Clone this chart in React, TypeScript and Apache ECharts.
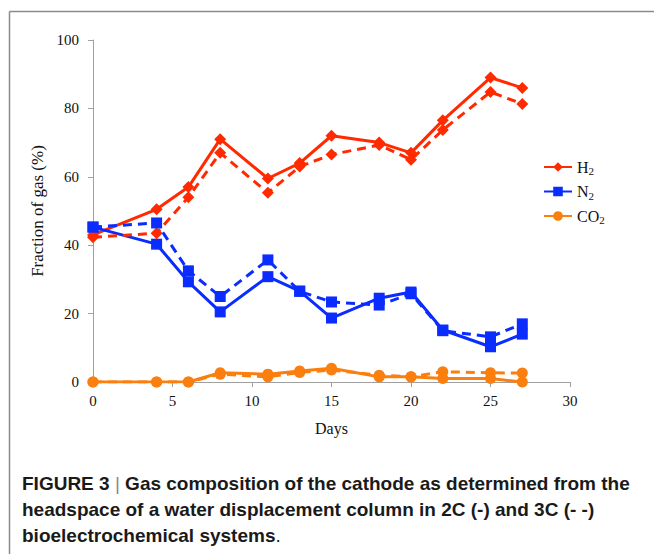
import React, { useEffect, useRef } from "react";
import * as echarts from "echarts";

const days = [0, 4, 6, 8, 11, 13, 15, 18, 20, 22, 25, 27];
const h2_2C = [43, 50.5, 57, 71, 59.5, 64, 72, 70, 67, 76.5, 89, 86];
const h2_3C = [42.3, 43.5, 54, 67, 55.3, 63, 66.5, 69.3, 65, 73.7, 84.8, 81.3];
const n2_2C = [45.3, 40.3, 29.3, 20.5, 30.8, 26.6, 18.7, 24.5, 26.3, 15.2, 10.3, 14];
const n2_3C = [45.3, 46.5, 32.5, 25, 35.7, 26.5, 23.4, 22.5, 25.8, 15, 13.2, 17];
const co2_2C = [0, 0, 0, 2.7, 2.3, 3.2, 4, 1.5, 1.5, 1, 1, 0];
const co2_3C = [0, 0, 0, 2.3, 1.5, 2.8, 3.5, 2, 1.5, 3, 2.7, 2.6];

const yTicks = { min: 0, max: 100, interval: 20 };
const xTicks = { min: 0, max: 30, interval: 5 };

const RED = "#ff2a00";
const BLUE = "#0a2cff";
const ORANGE = "#fb7f0e";

const pairs = (ys: number[]) => days.map((d, i) => [d, ys[i]]);

export default function App() {
  const ref = useRef<HTMLDivElement>(null);
  useEffect(() => {
    if (!ref.current) return;
    const chart = echarts.init(ref.current, null, { renderer: "svg" });
    const mk = (
      name: string,
      data: number[],
      color: string,
      symbol: string,
      size: number,
      dashed: boolean
    ) => ({
      name,
      type: "line",
      data: pairs(data),
      symbol,
      symbolSize: size,
      showSymbol: true,
      itemStyle: { color },
      lineStyle: { color, width: 3, type: dashed ? [9, 6] : "solid" },
      z: dashed ? 3 : 2,
    });
    const serif = "'Liberation Serif', 'DejaVu Serif', serif";
    const sans = "'Liberation Sans', Arial, sans-serif";
    chart.setOption({
      animation: false,
      grid: { left: 93, right: 84, top: 40, bottom: 172, containLabel: false },
      legend: {
        data: ["H2", "N2", "CO2"],
        orient: "vertical",
        left: 538,
        top: 154,
        itemWidth: 28,
        itemHeight: 12,
        itemGap: 7,
        formatter: (n: string) => `{n|${n.replace("2", "")}}{s|2}`,
        textStyle: {
          rich: {
            n: { fontFamily: serif, fontSize: 16, color: "#111", lineHeight: 18 },
            s: { fontFamily: serif, fontSize: 11, color: "#111", verticalAlign: "bottom", padding: [8, 0, 0, 0] },
          },
        },
      },
      xAxis: {
        type: "value",
        ...xTicks,
        name: "Days",
        nameLocation: "middle",
        nameGap: 38,
        nameTextStyle: { fontFamily: serif, fontSize: 16, color: "#111" },
        axisLine: { show: true, lineStyle: { color: "#a0a0a0", width: 1 } },
        axisTick: { show: true, length: 5, lineStyle: { color: "#a0a0a0" } },
        axisLabel: { fontFamily: serif, fontSize: 15, color: "#111", margin: 11 },
        splitLine: { show: false },
      },
      yAxis: {
        type: "value",
        ...yTicks,
        name: "Fraction of gas (%)",
        nameLocation: "middle",
        nameGap: 46,
        nameTextStyle: { fontFamily: serif, fontSize: 17, color: "#111" },
        axisLine: { show: true, lineStyle: { color: "#a0a0a0", width: 1 } },
        axisTick: { show: true, length: 5, lineStyle: { color: "#a0a0a0" } },
        axisLabel: { fontFamily: serif, fontSize: 15, color: "#111", margin: 14 },
        splitLine: { show: false },
      },
      graphic: [
        { type: "line", shape: { x1: 9.5, y1: 11.5, x2: 654, y2: 11.5 }, style: { stroke: "#8a8a8a", lineWidth: 1.5 } },
        { type: "line", shape: { x1: 9.5, y1: 11.5, x2: 9.5, y2: 554 }, style: { stroke: "#8a8a8a", lineWidth: 1.5 } },
        {
          type: "text",
          left: 22,
          top: 474,
          style: {
            text: "{b|FIGURE 3}{bar| | }{m|Gas composition of the cathode as determined from the}\n{m|headspace of a water displacement column in 2C (-) and 3C (- -)}\n{m|bioelectrochemical systems}{p|.}",
            rich: {
              b: { fontFamily: sans, fontWeight: "bold", fontSize: 19, fill: "#1a1a1a", lineHeight: 26 },
              bar: { fontFamily: sans, fontWeight: "normal", fontSize: 19, fill: "#888", lineHeight: 26 },
              m: { fontFamily: sans, fontWeight: "bold", fontSize: 19, fill: "#1a1a1a", lineHeight: 26 },
              p: { fontFamily: sans, fontWeight: "normal", fontSize: 19, fill: "#1a1a1a", lineHeight: 26 },
            },
          },
        },
      ],
      series: [
        mk("H2", h2_2C, RED, "diamond", 12, false),
        mk("H2 3C", h2_3C, RED, "diamond", 12, true),
        mk("N2", n2_2C, BLUE, "rect", 11, false),
        mk("N2 3C", n2_3C, BLUE, "rect", 11, true),
        mk("CO2", co2_2C, ORANGE, "circle", 11, false),
        mk("CO2 3C", co2_3C, ORANGE, "circle", 11, true),
      ],
    });
    return () => chart.dispose();
  }, []);
  return (
    <div
      ref={ref}
      style={{ position: "fixed", left: 0, top: 0, width: 654, height: 554, background: "#fff" }}
    />
  );
}
